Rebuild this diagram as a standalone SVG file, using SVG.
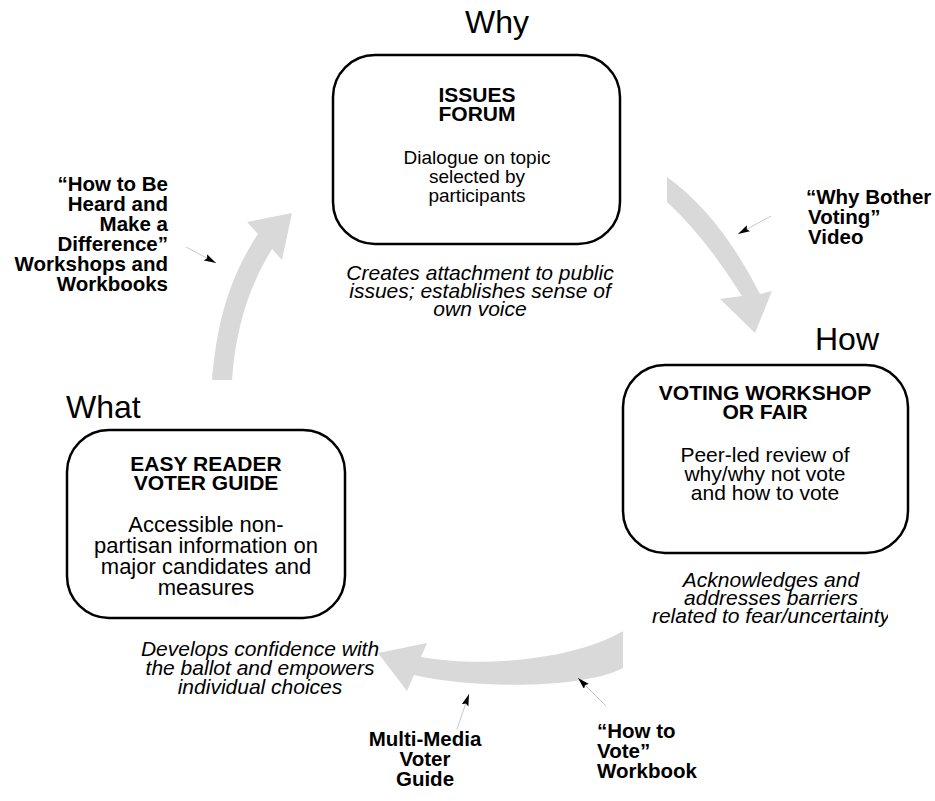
<svg xmlns="http://www.w3.org/2000/svg" width="935" height="801" viewBox="0 0 935 801">
  <style>
    text { font-family: "Liberation Sans", Arial, Helvetica, sans-serif; fill: #000; }
    .head { font-size: 32px; }
    .title { font-size: 21px; font-weight: bold; text-anchor: middle; }
    .body { font-size: 21px; text-anchor: middle; }
    .note { font-size: 21px; font-style: italic; text-anchor: middle; }
    .label { font-size: 20.5px; font-weight: bold; }
    .box { fill: #fff; stroke: #000; stroke-width: 2.5; }
    .cycle { fill: #d9d9d9; stroke: none; }
    .pointer { fill: none; stroke: #c8c8c8; stroke-width: 1; }
  </style>
  <defs>
    <marker id="tip" markerUnits="userSpaceOnUse" markerWidth="13" markerHeight="8" refX="12" refY="3.5" orient="auto">
      <path d="M0,0 L12,3.5 L0,7 L2,3.5 Z" fill="#000"/>
    </marker>
    <clipPath id="rightEdge">
      <rect x="0" y="0" width="888" height="801"/>
    </clipPath>
  </defs>

  <rect width="935" height="801" fill="#fff"/>

  <!-- cycle arrows and pointer lines -->
  <g id="connectors">
    <path class="cycle" d="M667,177 Q720,215 760,294 L772,291 L755,333 L720,299 L742,296 Q705,237 667,202 Z"/>
    <path class="cycle" d="M623,631 C575,660 480,668 421,657 L427,643 L378,653 L407,691 L414,675 C480,690 585,688 623,668 Z"/>
    <path class="cycle" d="M212,380 C217,318 232,273 258,234 L247,222 L292,213 L282,260 L272,249 C250,285 236,325 232,380 Z"/>

    <line class="pointer" x1="186" y1="247" x2="216" y2="263" marker-end="url(#tip)"/>
    <line class="pointer" x1="771" y1="216" x2="738" y2="234" marker-end="url(#tip)"/>
    <line class="pointer" x1="457" y1="729" x2="469" y2="694" marker-end="url(#tip)"/>
    <line class="pointer" x1="606" y1="706" x2="578" y2="678" marker-end="url(#tip)"/>
  </g>

  <!-- stage headings -->
  <g id="headings">
    <text class="head" x="497" y="33" text-anchor="middle">Why</text>
    <text class="head" x="815" y="350">How</text>
    <text class="head" x="66" y="418">What</text>
  </g>

  <!-- Why: issues forum -->
  <g id="issues-forum">
    <rect class="box" x="333" y="55" width="287" height="189" rx="42"/>
    <text class="title" x="477" y="102">ISSUES</text>
    <text class="title" x="477" y="121">FORUM</text>
    <text class="body" x="477" y="164" style="font-size:19px">Dialogue on topic</text>
    <text class="body" x="477" y="183" style="font-size:19px">selected by</text>
    <text class="body" x="477" y="202" style="font-size:19px">participants</text>
  </g>

  <!-- How: voting workshop -->
  <g id="voting-workshop">
    <rect class="box" x="623" y="365" width="285" height="188" rx="42"/>
    <text class="title" x="765" y="400">VOTING WORKSHOP</text>
    <text class="title" x="765" y="419">OR FAIR</text>
    <text class="body" x="765" y="462">Peer-led review of</text>
    <text class="body" x="765" y="481">why/why not vote</text>
    <text class="body" x="765" y="500">and how to vote</text>
  </g>

  <!-- What: easy reader voter guide -->
  <g id="voter-guide">
    <rect class="box" x="67" y="430" width="278" height="188" rx="42"/>
    <text class="title" x="206" y="471">EASY READER</text>
    <text class="title" x="206" y="490">VOTER GUIDE</text>
    <text class="body" x="206" y="532" style="font-size:22px">Accessible non-</text>
    <text class="body" x="206" y="553" style="font-size:22px">partisan information on</text>
    <text class="body" x="206" y="574" style="font-size:22px">major candidates and</text>
    <text class="body" x="206" y="595" style="font-size:22px">measures</text>
  </g>

  <!-- outcome notes -->
  <g id="note-voice">
    <text class="note" x="480" y="280">Creates attachment to public</text>
    <text class="note" x="480" y="298">issues; establishes sense of</text>
    <text class="note" x="480" y="316">own voice</text>
  </g>
  <g id="note-barriers" clip-path="url(#rightEdge)">
    <text class="note" x="771" y="587">Acknowledges and</text>
    <text class="note" x="771" y="605">addresses barriers</text>
    <text class="note" x="771" y="623">related to fear/uncertainty</text>
  </g>
  <g id="note-ballot">
    <text class="note" x="260" y="656">Develops confidence with</text>
    <text class="note" x="260" y="675">the ballot and empowers</text>
    <text class="note" x="260" y="694">individual choices</text>
  </g>

  <!-- resource labels -->
  <g id="label-workshops">
    <text class="label" x="168" y="191" text-anchor="end">“How to Be</text>
    <text class="label" x="168" y="211" text-anchor="end">Heard and</text>
    <text class="label" x="168" y="231" text-anchor="end">Make a</text>
    <text class="label" x="168" y="251" text-anchor="end">Difference”</text>
    <text class="label" x="168" y="271" text-anchor="end">Workshops and</text>
    <text class="label" x="168" y="291" text-anchor="end">Workbooks</text>
  </g>
  <g id="label-video">
    <text class="label" x="806" y="204">“Why Bother</text>
    <text class="label" x="808" y="224">Voting”</text>
    <text class="label" x="808" y="244">Video</text>
  </g>
  <g id="label-workbook">
    <text class="label" x="597" y="738">“How to</text>
    <text class="label" x="597" y="758">Vote”</text>
    <text class="label" x="597" y="778">Workbook</text>
  </g>
  <g id="label-multimedia">
    <text class="label" x="425" y="746" text-anchor="middle">Multi-Media</text>
    <text class="label" x="425" y="766" text-anchor="middle">Voter</text>
    <text class="label" x="425" y="786" text-anchor="middle">Guide</text>
  </g>
</svg>
